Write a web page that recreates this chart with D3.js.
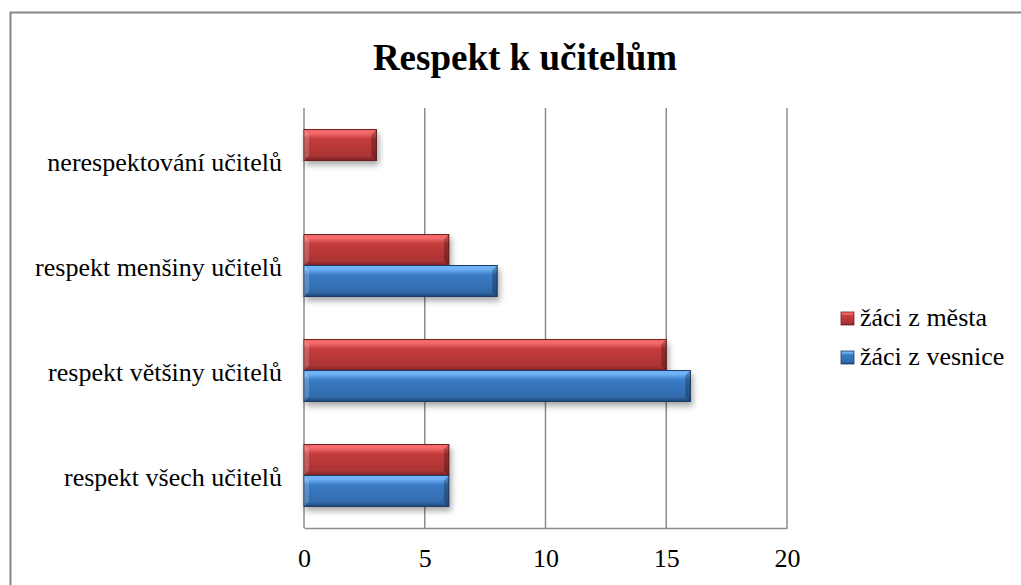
<!DOCTYPE html>
<html>
<head>
<meta charset="utf-8">
<script src="https://cdn.jsdelivr.net/npm/d3@7"></script>
<style>
  body { margin: 0; background: #fff; }
  text { font-family: "Liberation Serif", "Times New Roman", serif; fill: #000; }
</style>
</head>
<body>
<div id="vis"></div>
<script>
// chart data
const categories = ["respekt všech učitelů", "respekt většiny učitelů", "respekt menšiny učitelů", "nerespektování učitelů"];
const seriesNames = ["žáci z vesnice", "žáci z města"];
const vesnice = [6, 16, 8, 0];
const mesta = [6, 15, 6, 3];
const xTicks = [0, 5, 10, 15, 20];

const W = 1021, H = 585;
const PLOT = {left: 304, right: 787, top: 108, bottom: 528};
const SERIF = '"Liberation Serif", "Times New Roman", serif';

const svg = d3.select("#vis").append("svg")
    .attr("width", W).attr("height", H);

const defs = svg.append("defs");

function grad(id, light, mid, dark) {
  const g = defs.append("linearGradient").attr("id", id)
      .attr("x1", 0).attr("y1", 0).attr("x2", 0).attr("y2", 1);
  g.append("stop").attr("offset", "0%").attr("stop-color", light);
  g.append("stop").attr("offset", "12%").attr("stop-color", light);
  g.append("stop").attr("offset", "30%").attr("stop-color", mid);
  g.append("stop").attr("offset", "85%").attr("stop-color", d3.color(mid).darker(0.4));
  g.append("stop").attr("offset", "100%").attr("stop-color", dark);
}
grad("gRed", "#f56a6a", "#c53c3c", "#7a2222");
grad("gBlue", "#6fb2f5", "#3a7bc6", "#1f4677");

const shadow = defs.append("filter").attr("id", "shadow")
    .attr("x", "-5%").attr("y", "-20%").attr("width", "115%").attr("height", "160%");
shadow.append("feGaussianBlur").attr("in", "SourceAlpha").attr("stdDeviation", 3);
shadow.append("feOffset").attr("dx", 2).attr("dy", 4).attr("result", "b");
shadow.append("feComponentTransfer").append("feFuncA").attr("type", "linear").attr("slope", 0.35);
const merge = shadow.append("feMerge");
merge.append("feMergeNode");
merge.append("feMergeNode").attr("in", "SourceGraphic");

// outer chart border
svg.append("rect")
    .attr("x", 10.5).attr("y", 12.5)
    .attr("width", W + 20).attr("height", H + 20)
    .attr("fill", "none").attr("stroke", "#868686").attr("stroke-width", 2);

// title
svg.append("text")
    .attr("x", 525).attr("y", 70)
    .attr("text-anchor", "middle")
    .style("font-family", SERIF).style("font-size", "37px").style("font-weight", "bold")
    .text("Respekt k učitelům");

const x = d3.scaleLinear().domain([0, 20]).range([PLOT.left, PLOT.right]);
const y = d3.scaleBand().domain(categories.slice().reverse())
    .range([PLOT.top, PLOT.bottom]).paddingInner(0.41).paddingOuter(0.205);
const ySub = d3.scaleBand().domain(["žáci z města", "žáci z vesnice"])
    .range([0, y.bandwidth()]);

// gridlines
svg.append("g").selectAll("line").data(xTicks).join("line")
    .attr("x1", d => x(d)).attr("x2", d => x(d))
    .attr("y1", PLOT.top).attr("y2", PLOT.bottom)
    .attr("stroke", "#8c8c8c").attr("stroke-width", 1.5);

// axes
const xAxis = svg.append("g")
    .attr("transform", `translate(0,${PLOT.bottom})`)
    .call(d3.axisBottom(x).tickValues(xTicks).tickSize(0).tickPadding(21));
xAxis.select(".domain").attr("stroke", "#8c8c8c").attr("stroke-width", 1.5);
xAxis.selectAll("text").style("font-size", "26px").style("font-family", SERIF);

const yAxis = svg.append("g")
    .attr("transform", `translate(${PLOT.left},0)`)
    .call(d3.axisLeft(y).tickSize(0).tickPadding(22));
yAxis.select(".domain").remove();
yAxis.selectAll("text").style("font-size", "26px").style("font-family", SERIF)
    .attr("dy", "0.4em");

// bars
const rows = [];
categories.forEach((c, i) => {
  rows.push({cat: c, s: "žáci z města", v: mesta[i], fill: "url(#gRed)", edge: "#6e1f1f"});
  rows.push({cat: c, s: "žáci z vesnice", v: vesnice[i], fill: "url(#gBlue)", edge: "#1b3d68"});
});

const bars = svg.append("g").attr("filter", "url(#shadow)")
    .selectAll("g").data(rows.filter(d => d.v > 0)).join("g");

bars.append("rect")
    .attr("x", x(0))
    .attr("y", d => y(d.cat) + ySub(d.s))
    .attr("width", d => x(d.v) - x(0))
    .attr("height", ySub.bandwidth())
    .attr("fill", d => d.fill)
    .attr("stroke", d => d.edge).attr("stroke-width", 1);

// bevelled ends
bars.append("path")
    .attr("d", d => {
      const x1 = x(d.v), y0 = y(d.cat) + ySub(d.s), h = ySub.bandwidth(), b = 5;
      return `M${x1},${y0} L${x1 - b},${y0 + b} L${x1 - b},${y0 + h - b} L${x1},${y0 + h} Z`;
    })
    .attr("fill", "#000").attr("opacity", 0.25);
bars.append("path")
    .attr("d", d => {
      const x0 = x(0), y0 = y(d.cat) + ySub(d.s), h = ySub.bandwidth(), b = 5;
      return `M${x0},${y0} L${x0 + b},${y0 + b} L${x0 + b},${y0 + h - b} L${x0},${y0 + h} Z`;
    })
    .attr("fill", "#fff").attr("opacity", 0.18);

// legend
const legend = svg.append("g");
const legendItems = [
  {name: seriesNames[1], fill: "url(#gRed)", edge: "#6e1f1f"},
  {name: seriesNames[0], fill: "url(#gBlue)", edge: "#1b3d68"}
];
legendItems.forEach((d, i) => {
  const ly = 318 + i * 39;
  legend.append("rect")
      .attr("x", 841).attr("y", ly - 6).attr("width", 13).attr("height", 13)
      .attr("fill", d.fill).attr("stroke", d.edge).attr("stroke-width", 0.8);
  legend.append("text")
      .attr("x", 860).attr("y", ly + 8)
      .style("font-family", SERIF).style("font-size", "26px")
      .text(d.name);
});
</script>
</body>
</html>
